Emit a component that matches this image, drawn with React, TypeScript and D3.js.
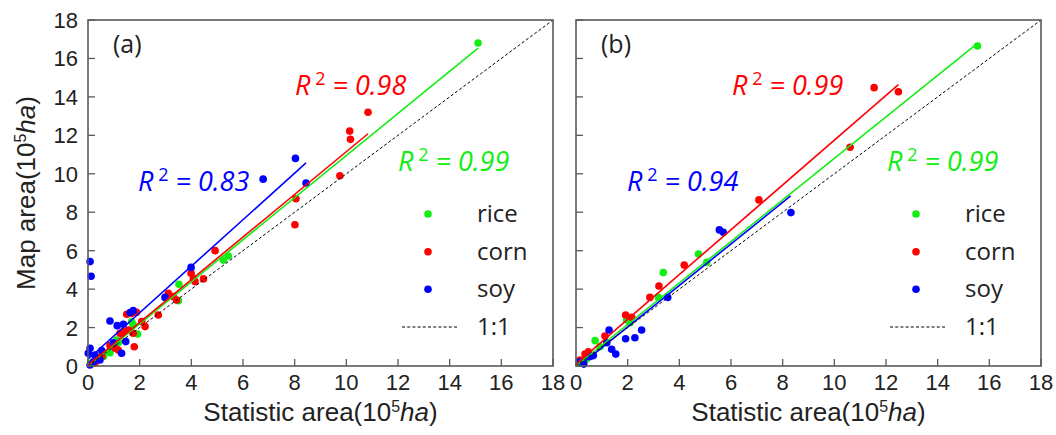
import React from 'react';
import * as d3 from 'd3';

// ---------- data (10^5 ha) ----------
const axisTicks = [0, 2, 4, 6, 8, 10, 12, 14, 16, 18];
const crops = ['rice', 'corn', 'soy'];
const cropColors = ['#12ee12', '#ff0000', '#0000ff'];

// Panel (a)
const riceA: [number, number][] = [
  [15.1, 16.8], [5.43, 5.72], [5.24, 5.51], [3.52, 4.25], [3.5, 3.4], [1.69, 2.31], [1.75, 2.13],
  [1.92, 1.66], [1.11, 1.35], [1.17, 1.21], [0.85, 0.69], [0.14, 0.14], [0.6, 0.5],
];
const cornA: [number, number][] = [
  [10.84, 13.2], [10.13, 12.22], [10.16, 11.79], [9.75, 9.9], [8.05, 8.7], [8.01, 7.35], [4.92, 6.0],
  [3.99, 4.82], [4.08, 4.56], [4.14, 4.39], [4.47, 4.53], [3.11, 3.78], [3.3, 3.61], [3.43, 3.43],
  [2.72, 2.65], [1.5, 2.69], [1.69, 2.74], [1.88, 2.79], [2.08, 2.31], [2.21, 2.05], [1.24, 1.7],
  [1.37, 1.79], [1.56, 1.87], [1.75, 1.7], [1.79, 1.0], [0.85, 1.06], [1.05, 0.92], [1.17, 0.83],
  [0.53, 0.49], [0.34, 0.31], [0.27, 0.17],
];
const soyA: [number, number][] = [
  [8.03, 10.8], [6.78, 9.72], [8.44, 9.52], [3.99, 5.13], [2.98, 3.57], [1.75, 2.88], [1.63, 2.78],
  [0.85, 2.34], [1.13, 2.1], [1.37, 2.17], [1.3, 0.66], [1.46, 1.27], [0.98, 1.21], [0.08, 5.43],
  [0.12, 4.67], [0.08, 0.92], [0.01, 0.66], [0.27, 0.57], [0.53, 0.8], [0.21, 0.22], [0.08, 0.05],
  [0.46, 0.31],
];
// fit lines: slope, intercept, x start, x end (order rice, corn, soy)
const slopeA = [1.095, 1.11, 1.21];
const interceptA = [0.0, 0.05, 0.35];
const xStartA = [0, 0, 0];
const xEndA = [15.1, 10.84, 8.44];
const r2A = ['0.99', '0.98', '0.83'];

// Panel (b)
const riceB: [number, number][] = [
  [15.54, 16.65], [4.74, 5.83], [5.06, 5.39], [3.38, 4.86], [3.19, 3.57], [1.96, 2.39], [2.09, 2.25],
  [0.74, 1.32], [0.93, 1.0], [0.15, 0.14], [0.4, 0.35],
];
const cornB: [number, number][] = [
  [11.54, 14.48], [12.48, 14.27], [10.61, 11.38], [7.08, 8.64], [4.19, 5.25], [3.21, 4.16], [2.86, 3.57],
  [1.92, 2.65], [2.16, 2.53], [1.12, 1.56], [0.48, 0.74], [0.35, 0.62], [0.15, 0.31],
];
const soyB: [number, number][] = [
  [8.32, 7.98], [5.55, 7.08], [5.7, 6.96], [3.55, 3.57], [2.54, 1.87], [2.28, 1.47], [1.92, 1.42],
  [1.28, 1.87], [1.19, 1.21], [1.38, 0.87], [1.54, 0.62], [0.67, 0.54], [0.54, 0.49], [0.15, 0.22],
  [0.3, 0.1],
];
const slopeB = [1.08, 1.165, 1.08];
const interceptB = [0.0, 0.1, -0.13];
const xStartB = [0, 0, 0.15];
const xEndB = [15.41, 12.48, 8.31];
const r2B = ['0.99', '0.99', '0.94'];

// ---------- layout ----------
const W = 1056;
const H = 435;
const TOP = 20;
const BOTTOM = 366;
const PW = 465;
const tickFont = '"Liberation Sans", Arial, sans-serif';
const textFont = '"Open Sans", "Noto Sans", sans-serif';

type PanelProps = {
  left: number;
  label: string;
  series: [number, number][][];
  slopes: number[];
  intercepts: number[];
  xs0: number[];
  xs1: number[];
  r2: string[];
  r2Pos: [number, number][];
  showYLabels: boolean;
};

function Panel(p: PanelProps) {
  const x = d3.scaleLinear().domain([0, 18]).range([p.left, p.left + PW]);
  const y = d3.scaleLinear().domain([0, 18]).range([BOTTOM, TOP]);
  const line = d3.line<[number, number]>().x((d) => x(d[0])).y((d) => y(d[1]));
  const axisColor = '#5a5a5a';
  const legendRows = [214, 251.7, 289.3, 327];
  return (
    <g>
      {/* scatter points */}
      {p.series.map((pts, i) => (
        <g key={'s' + i} fill={cropColors[i]}>
          {pts.map((d, j) => (
            <circle key={j} cx={x(d[0])} cy={y(d[1])} r={3.8} />
          ))}
        </g>
      ))}
      {/* fit lines */}
      {p.slopes.map((s, i) => {
        const a = p.xs0[i];
        const b = p.xs1[i];
        const pts: [number, number][] = [
          [a, s * a + p.intercepts[i]],
          [b, s * b + p.intercepts[i]],
        ];
        return <path key={'f' + i} d={line(pts) || ''} stroke={cropColors[i]} strokeWidth={1.6} fill="none" />;
      })}
      {/* 1:1 */}
      <path d={line([[0, 0], [18, 18]]) || ''} stroke="#000" strokeWidth={1} strokeDasharray="3,2.2" fill="none" />
      {/* box */}
      <rect x={p.left} y={TOP} width={PW} height={BOTTOM - TOP} fill="none" stroke={axisColor} strokeWidth={1.6} />
      {/* ticks */}
      {axisTicks.map((t) => (
        <g key={'t' + t}>
          <line x1={x(t)} x2={x(t)} y1={BOTTOM} y2={BOTTOM - 7} stroke={axisColor} strokeWidth={1.3} />
          <line x1={p.left} x2={p.left + 7} y1={y(t)} y2={y(t)} stroke={axisColor} strokeWidth={1.3} />
          <text x={x(t)} y={390} textAnchor="middle" fontFamily={tickFont} fontSize={22} fill="#222">
            {t}
          </text>
          {p.showYLabels && (
            <text x={p.left - 10} y={y(t) + 8} textAnchor="end" fontFamily={tickFont} fontSize={22} fill="#222">
              {t}
            </text>
          )}
        </g>
      ))}
      {/* panel label */}
      <text x={p.left + 25} y={53} fontFamily={textFont} fontSize={25} fill="#222">
        {p.label}
      </text>
      {/* R^2 */}
      {p.r2.map((r, i) => (
        <text key={'r' + i} x={p.left + p.r2Pos[i][0]} y={p.r2Pos[i][1]} fontFamily={textFont} fontSize={27} fill={cropColors[i]}>
          <tspan fontStyle="italic">R</tspan>
          <tspan dy={-10} fontSize={18}>{' 2'}</tspan>
          <tspan dy={10} fontStyle="italic">{' = ' + r}</tspan>
        </text>
      ))}
      {/* legend */}
      {crops.map((c, i) => (
        <g key={'l' + i}>
          <circle cx={p.left + 340} cy={legendRows[i]} r={3.8} fill={cropColors[i]} />
          <text x={p.left + 389} y={legendRows[i] + 8} fontFamily={textFont} fontSize={24} fill="#222">
            {c}
          </text>
        </g>
      ))}
      <line x1={p.left + 314} x2={p.left + 369} y1={legendRows[3]} y2={legendRows[3]} stroke="#000" strokeWidth={1} strokeDasharray="3,2.2" />
      <text x={p.left + 389} y={legendRows[3] + 8} fontFamily={textFont} fontSize={24} fill="#222">
        1:1
      </text>
      {/* x label */}
      <text x={p.left + PW / 2} y={421} textAnchor="middle" fontFamily={tickFont} fontSize={26} fill="#222">
        Statistic area(10
        <tspan dy={-9} fontSize={16}>5</tspan>
        <tspan dy={9} fontStyle="italic">ha</tspan>)
      </text>
    </g>
  );
}

export default function App() {
  return (
    <svg width={W} height={H} style={{ position: 'fixed', left: 0, top: 0, background: '#fff' }}>
      <rect x={0} y={0} width={W} height={H} fill="#fff" />
      <Panel
        left={88}
        label="(a)"
        series={[riceA, cornA, soyA]}
        slopes={slopeA}
        intercepts={interceptA}
        xs0={xStartA}
        xs1={xEndA}
        r2={r2A}
        r2Pos={[[310, 171], [207, 95], [50, 191]]}
        showYLabels={true}
      />
      <Panel
        left={576}
        label="(b)"
        series={[riceB, cornB, soyB]}
        slopes={slopeB}
        intercepts={interceptB}
        xs0={xStartB}
        xs1={xEndB}
        r2={r2B}
        r2Pos={[[311, 171], [156, 95], [51, 191]]}
        showYLabels={false}
      />
      <text
        transform={`translate(35, ${(TOP + BOTTOM) / 2}) rotate(-90)`}
        textAnchor="middle"
        fontFamily={tickFont}
        fontSize={26}
        fill="#222"
      >
        Map area(10
        <tspan dy={-9} fontSize={16}>5</tspan>
        <tspan dy={9} fontStyle="italic">ha</tspan>)
      </text>
    </svg>
  );
}
